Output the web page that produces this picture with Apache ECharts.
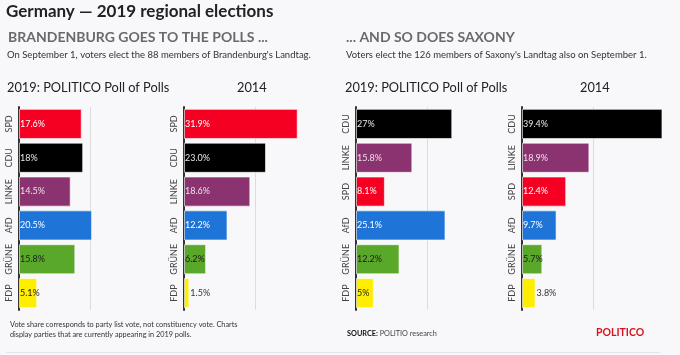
<!DOCTYPE html>
<html><head><meta charset="utf-8">
<script src="https://cdn.jsdelivr.net/npm/echarts@6/dist/echarts.min.js"></script>
<style>html,body{margin:0;padding:0;background:#f8f8fa}#c{width:680px;height:355px}</style>
</head><body><div id="c"></div>
<script>
const bbParties = ['SPD','CDU','LINKE','AfD','GRÜNE','FDP'];
const bb2019 = [17.6,18,14.5,20.5,15.8,5.1];
const bb2019Labels = ['17.6%','18%','14.5%','20.5%','15.8%','5.1%'];
const bb2014 = [31.9,23.0,18.6,12.2,6.2,1.5];
const bb2014Labels = ['31.9%','23.0%','18.6%','12.2%','6.2%','1.5%'];
const snParties = ['CDU','LINKE','SPD','AfD','GRÜNE','FDP'];
const sn2019 = [27,15.8,8.1,25.1,12.2,5];
const sn2019Labels = ['27%','15.8%','8.1%','25.1%','12.2%','5%'];
const sn2014 = [39.4,18.9,12.4,9.7,5.7,3.8];
const sn2014Labels = ['39.4%','18.9%','12.4%','9.7%','5.7%','3.8%'];
const xTicks = [0,20,40];

const partyColor = {SPD:'#f50022',CDU:'#000000',LINKE:'#8b3270',AfD:'#1f74d8','GRÜNE':'#5aa82a',FDP:'#ffee00'};
const labelColor = {SPD:'#ffffff',CDU:'#e8e8e8',LINKE:'#f0e0ea',AfD:'#ffffff','GRÜNE':'#1a1a1a',FDP:'#1a1a1a'};
const FONT = 'Lato';

const gridLefts = [19,184,356,522];
const panels = [
  {cats:bbParties, vals:bb2019, labels:bb2019Labels},
  {cats:bbParties, vals:bb2014, labels:bb2014Labels},
  {cats:snParties, vals:sn2019, labels:sn2019Labels},
  {cats:snParties, vals:sn2014, labels:sn2014Labels}
];

const grid=[], xAxis=[], yAxis=[], series=[];
panels.forEach((p,i)=>{
  grid.push({left:gridLefts[i], top:107, width:142.6, height:203});
  xAxis.push({gridIndex:i, type:'value', min:xTicks[0], max:xTicks[2], interval:xTicks[1]-xTicks[0],
    axisLabel:{show:false}, axisLine:{show:false}, axisTick:{show:false},
    splitLine:{show:true, lineStyle:{color:['rgba(0,0,0,0)','#dcdce0','rgba(0,0,0,0)'], width:1}}});
  yAxis.push({gridIndex:i, type:'category', data:p.cats, inverse:true,
    axisLine:{show:true, lineStyle:{color:'#333', width:2}}, axisTick:{show:false},
    axisLabel:{interval:0, rotate:90, margin:5, fontSize:9, color:'#444', fontFamily:FONT}});
  series.push({type:'bar', xAxisIndex:i, yAxisIndex:i, barCategoryGap:'11%',
    data:p.vals.map((v,j)=>{
      const c=p.cats[j]; const small=v<4;
      return {value:v,
        itemStyle:{color:partyColor[c], borderColor:'rgba(255,255,255,0.6)', borderWidth:1},
        label:{show:true, position: small?'right':'insideLeft', distance:1,
          formatter:p.labels[j], color: small?'#333':labelColor[c], fontSize:9, fontFamily:FONT}};
    }),
    silent:true, animation:false});
});

const T = (text, left, top, style) => ({text, left, top, padding:0, textStyle:Object.assign({fontFamily:FONT, fontWeight:'normal', color:'#222'}, style)});

const chart = echarts.init(document.getElementById('c'));
chart.setOption({
  backgroundColor:'#f8f8fa',
  animation:false,
  title:[
    T('Germany — 2019 regional elections', 6, 3, {fontSize:17, fontWeight:'bold'}),
    T('BRANDENBURG GOES TO THE POLLS ...', 8, 30, {fontSize:14, fontWeight:'bold', color:'#6a6a6a'}),
    T('... AND SO DOES SAXONY', 346, 30, {fontSize:14, fontWeight:'bold', color:'#6a6a6a'}),
    T("On September 1, voters elect the 88 members of Brandenburg's Landtag.", 7, 50, {fontSize:9.5, color:'#333'}),
    T("Voters elect the 126 members of Saxony's Landtag also on September 1.", 346, 50, {fontSize:9.5, color:'#333'}),
    T('2019: POLITICO Poll of Polls', 7, 81, {fontSize:12.8}),
    T('2014', 237, 81, {fontSize:12.8}),
    T('2019: POLITICO Poll of Polls', 345, 81, {fontSize:12.8}),
    T('2014', 580, 81, {fontSize:12.8}),
    T('Vote share corresponds to party list vote, not constituency vote. Charts\ndisplay parties that are currently appearing in 2019 polls.', 10, 320,
      {fontSize:7.3, color:'#333', lineHeight:9.5}),
    T('{b|SOURCE:} POLITIO research', 347, 330, {fontSize:7.3, color:'#444',
      rich:{b:{fontSize:7.3, fontWeight:'bold', color:'#111', fontFamily:FONT}}}),
    T('POLITICO', 596, 327, {fontSize:10.5, fontWeight:'bold', color:'#d7141e'})
  ],
  graphic:[{type:'line', shape:{x1:6,y1:352.5,x2:660,y2:352.5}, style:{stroke:'#e6e6ea', lineWidth:1}}],
  grid, xAxis, yAxis, series
});
</script></body></html>
